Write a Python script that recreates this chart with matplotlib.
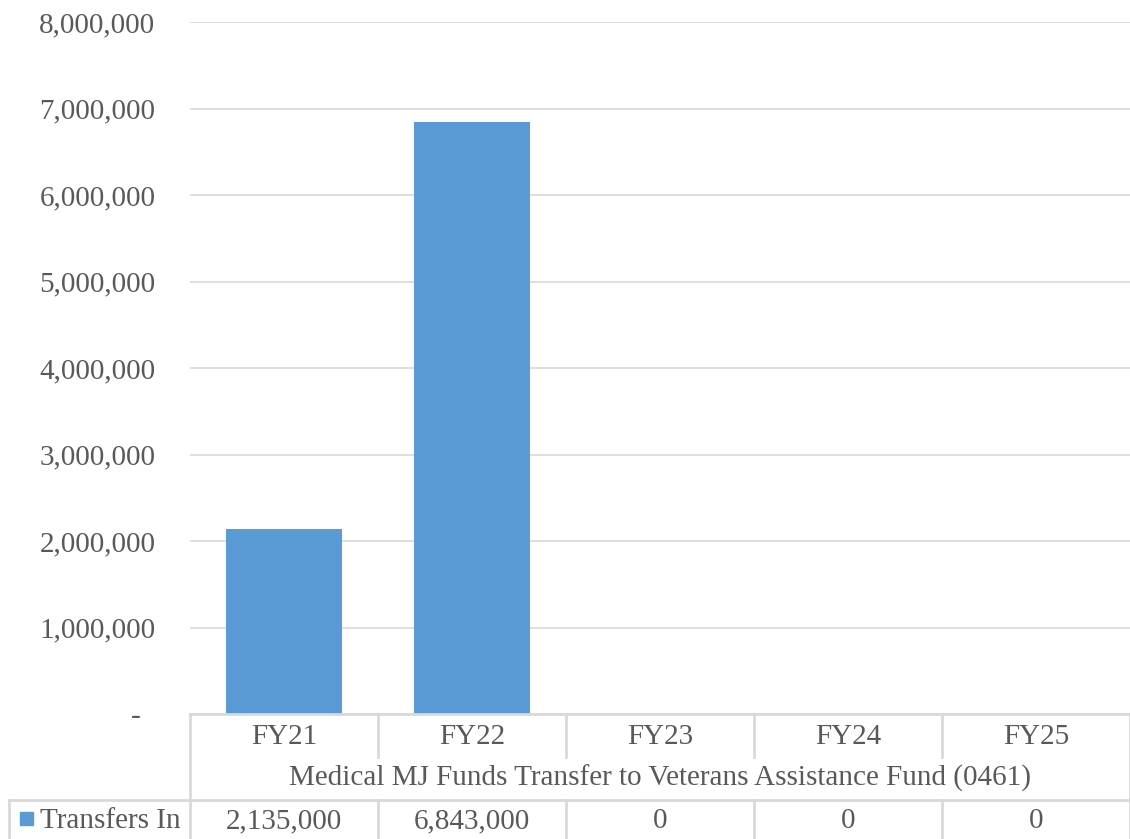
import matplotlib.pyplot as plt
from matplotlib.patches import Rectangle
from matplotlib.lines import Line2D

categories = ["FY21", "FY22", "FY23", "FY24", "FY25"]
transfers_in = [2135000, 6843000, 0, 0, 0]
series_name = "Transfers In"
group_label = "Medical MJ Funds Transfer to Veterans Assistance Fund (0461)"
y_ticks = [0, 1000000, 2000000, 3000000, 4000000, 5000000, 6000000, 7000000, 8000000]

W, H = 1130, 839
txt = "#595959"
grid = "#D9D9D9"
blue = "#5B9BD5"
plt.rcParams['font.family'] = ['Liberation Serif', 'DejaVu Serif']

fig = plt.figure(figsize=(W / 100, H / 100), dpi=100)
# plot area in pixels: x 190..1130, y 22..714
ax = fig.add_axes([190 / W, (H - 714) / H, 940 / W, (714 - 22) / H])

n = len(categories)
ax.bar(range(n), transfers_in, width=0.62, color=blue, zorder=3)
ax.set_xlim(-0.5, n - 0.5)
ax.set_ylim(0, 8000000)
ax.set_yticks(y_ticks)
ax.set_yticklabels(["-  " if v == 0 else f"{v:,}" for v in y_ticks])
ax.tick_params(axis='y', length=0, pad=25, labelsize=21, labelcolor=txt)
ax.set_xticks([])
ax.grid(axis='y', color=grid, linewidth=1.2, zorder=0)
for s in ax.spines.values():
    s.set_visible(False)


def fx(px):
    return px / W


def fy(py):
    return 1 - py / H


def hline(x0, x1, y):
    fig.add_artist(Line2D([fx(x0), fx(x1)], [fy(y), fy(y)], color=grid, lw=2))


def vline(x, y0, y1):
    fig.add_artist(Line2D([fx(x), fx(x)], [fy(y0), fy(y1)], color=grid, lw=2))


# data table
col_edges = [190 + i * 188 for i in range(n + 1)]
hline(190, 1130, 714)
hline(9, 1130, 800)
for i, x in enumerate(col_edges):
    vline(x, 714, 757 if 0 < i < n else 800)
    vline(x, 800, 839)
vline(9, 800, 839)

for i, c in enumerate(categories):
    fig.text(fx(col_edges[i] + 94), fy(737), c, ha='center', va='center',
             fontsize=21, color=txt)
fig.text(fx(660), fy(778), group_label, ha='center', va='center',
         fontsize=21, color=txt)
for i, v in enumerate(transfers_in):
    fig.text(fx(col_edges[i] + 94), fy(821), f"{v:,}", ha='center', va='center',
             fontsize=21, color=txt)

fig.add_artist(Rectangle((fx(20), fy(825)), 13 / W, 13 / H, color=blue,
                         transform=fig.transFigure))
fig.text(fx(40), fy(821), series_name, ha='left', va='center',
         fontsize=21, color=txt)

fig.savefig("out.png", dpi=100)
